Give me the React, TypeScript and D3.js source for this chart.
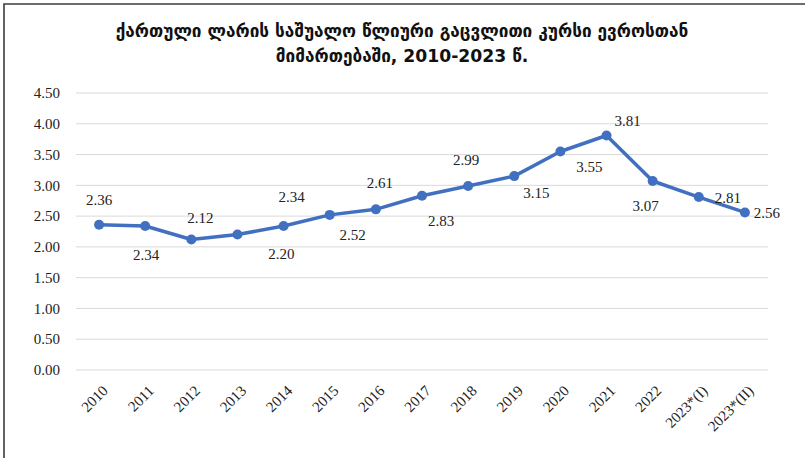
import React from 'react';
import * as d3 from 'd3';

// average yearly GEL / EUR exchange rate
const years = [
  '2010', '2011', '2012', '2013', '2014', '2015', '2016', '2017',
  '2018', '2019', '2020', '2021', '2022', '2023*(I)', '2023*(II)',
];
const rates = [2.36, 2.34, 2.12, 2.2, 2.34, 2.52, 2.61, 2.83, 2.99, 3.15, 3.55, 3.81, 3.07, 2.81, 2.56];
const yTicks = [0, 0.5, 1, 1.5, 2, 2.5, 3, 3.5, 4, 4.5];
const titleLines = [
  'ქართული ლარის საშუალო წლიური გაცვლითი კურსი ევროსთან',
  'მიმართებაში, 2010-2023 წ.',
];

const W = 805;
const H = 458;
const margin = { top: 93, right: 37, bottom: 88, left: 76 };

// manual label nudges (Excel style placement), [dx, dy] from the marker
const labelNudge: [number, number][] = [
  [0, -25], [1, 29], [9, -22], [44, 19], [8, -29], [23, 20], [4, -27], [19, 25],
  [-2, -26], [22, 17], [29, 15], [21, -15], [-7, 25], [29, 1], [22, 0],
];

const labelFont = '"Liberation Serif", "Times New Roman", serif';

export default function App() {
  const x = d3.scaleBand<string>()
    .domain(years)
    .range([margin.left, W - margin.right])
    .padding(0);
  const y = d3.scaleLinear()
    .domain([0, 4.5])
    .range([H - margin.bottom, margin.top]);

  const cx = (d: string) => (x(d) || 0) + x.bandwidth() / 2;

  const line = d3.line<number>()
    .x((_, i) => cx(years[i]))
    .y(d => y(d));

  return (
    <svg
      width={W}
      height={H}
      style={{ position: 'absolute', left: 0, top: 0, background: '#fff' }}
    >
      {/* frame */}
      <path d={`M4,${H} V4 H${W}`} fill="none" stroke="#3b3b3b" strokeWidth={1.6} />

      {/* title */}
      <g fontFamily='"DejaVu Sans", sans-serif' fontWeight="bold" fontSize={17.2} fill="#111" textAnchor="middle">
        {titleLines.map((t, i) => (
          <text key={i} x={402} y={37 + i * 25}>{t}</text>
        ))}
      </g>

      {/* grid + y labels */}
      {yTicks.map(t => (
        <g key={t}>
          <line x1={margin.left} x2={W - margin.right} y1={y(t)} y2={y(t)} stroke="#d9d9d9" strokeWidth={1} />
          <text x={60} y={y(t)} dy="0.35em" textAnchor="end" fontFamily={labelFont} fontSize={15} fill="#222">
            {t.toFixed(2)}
          </text>
        </g>
      ))}

      {/* x labels */}
      {years.map(d => (
        <text
          key={d}
          transform={`translate(${cx(d) + 6},${H - margin.bottom + 18}) rotate(-45)`}
          textAnchor="end"
          dy="0.35em"
          fontFamily={labelFont}
          fontSize={15}
          fill="#222"
        >
          {d}
        </text>
      ))}

      {/* series */}
      <path d={line(rates) || ''} fill="none" stroke="#4270c0" strokeWidth={3.5} strokeLinejoin="round" />
      {rates.map((v, i) => (
        <circle key={i} cx={cx(years[i])} cy={y(v)} r={5} fill="#4270c0" />
      ))}

      {/* data labels */}
      {rates.map((v, i) => (
        <text
          key={i}
          x={cx(years[i]) + labelNudge[i][0]}
          y={y(v) + labelNudge[i][1]}
          dy="0.35em"
          textAnchor="middle"
          fontFamily={labelFont}
          fontSize={15}
          fill="#222"
        >
          {v.toFixed(2)}
        </text>
      ))}
    </svg>
  );
}
